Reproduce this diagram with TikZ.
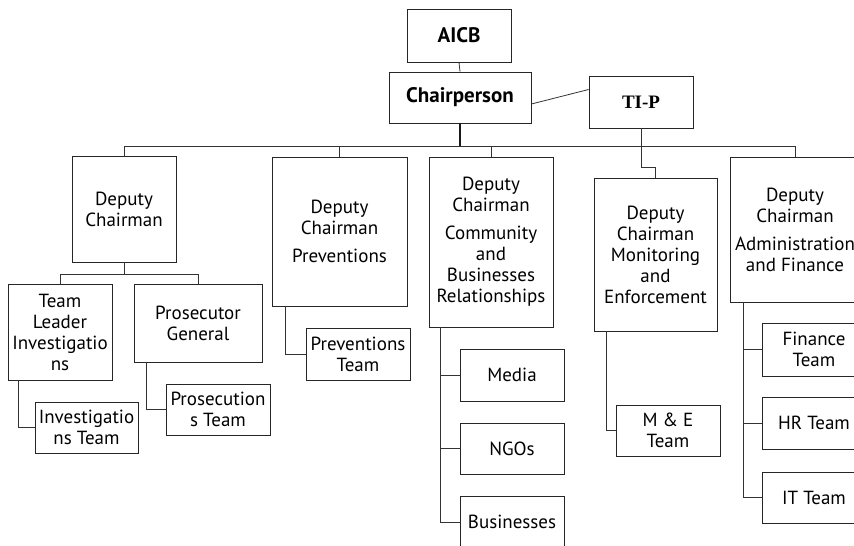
\documentclass[tikz,border=0pt]{standalone}
\usepackage{fontspec}
\setmainfont{PT Sans}
\newfontfamily\tipfont{Liberation Serif}
\usetikzlibrary{calc}
\begin{document}
\begin{tikzpicture}[x=1pt,y=-1pt,
  box/.style={draw=black!85, line width=0.8pt, align=center, inner sep=0pt,
    font=\fontsize{19}{21}\selectfont},
  tbox/.style={box, font=\bfseries\fontsize{21}{23}\selectfont},
  ln/.style={draw=black!80, line width=0.8pt},
  thick ln/.style={draw=black!90, line width=1.5pt}]
\useasboundingbox (0,0) rectangle (854,546);

% top
\node[tbox, minimum width=104pt, minimum height=53pt] (aicb) at (459,35.5) {AICB};
\node[tbox, minimum width=142pt, minimum height=51pt] (chair) at (460,97.5) {Chairperson};
\node[tbox, minimum width=104pt, minimum height=52pt, font=\tipfont\bfseries\fontsize{19}{21}\selectfont] (tip) at (641,102) {TI-P};

% deputies
\node[box, minimum width=104pt, minimum height=106pt] (dep1) at (124,209) {Deputy\\Chairman};
\node[box, minimum width=135pt, minimum height=149pt] (dep2) at (339.5,231.5) {Deputy\\Chairman\\[7pt]Preventions};
\node[box, minimum width=124pt, minimum height=170pt] (dep3) at (491,242) {Deputy\\Chairman\\[7pt]Community\\and\\Businesses\\Relationships};
\node[box, minimum width=123pt, minimum height=153pt] (dep4) at (655.5,254.5) {Deputy\\Chairman\\Monitoring\\and\\Enforcement};
\node[box, minimum width=130pt, minimum height=145pt] (dep5) at (795,229.5) {Deputy\\Chairman\\[7pt]Administration\\and Finance};

% second level
\node[box, minimum width=104pt, minimum height=96pt] (tl) at (60,332) {Team\\Leader\\Investigatio\\ns};
\node[box, minimum width=128pt, minimum height=78pt] (pg) at (198,323) {Prosecutor\\General};
\node[box, minimum width=103pt, minimum height=51pt] (inv) at (86.5,427.5) {Investigatio\\ns Team};
\node[box, minimum width=104pt, minimum height=51pt] (pros) at (218,409.5) {Prosecution\\s Team};
\node[box, minimum width=104pt, minimum height=52pt] (prevt) at (358,354) {Preventions\\Team};
\node[box, minimum width=104pt, minimum height=52pt] (media) at (512,375) {Media};
\node[box, minimum width=104pt, minimum height=51pt] (ngos) at (512,448.5) {NGOs};
\node[box, minimum width=104pt, minimum height=52pt] (bus) at (512,522) {Businesses};
\node[box, minimum width=104pt, minimum height=51pt] (met) at (668,430.5) {M \& E\\Team};
\node[box, minimum width=104pt, minimum height=53pt] (fin) at (814,349.5) {Finance\\Team};
\node[box, minimum width=104pt, minimum height=52pt] (hr) at (814,423) {HR Team};
\node[box, minimum width=104pt, minimum height=51pt] (it) at (814,497.5) {IT Team};

% coordinates
\coordinate (bar) at (0,146);
\coordinate (tipjog) at (0,167);
\coordinate (d1bar) at (0,274);

% top connectors
\draw[ln] (aicb.south) -- (chair.north);
\draw[ln] ($(chair.east)+(0,6.5)$) -- ($(tip.west)+(0,-12.5)$);
\draw[thick ln] (chair.south) -- (chair.south |- bar);
\draw[ln] (dep1.north |- bar) -- (dep5.north |- bar);
\draw[ln] (dep1.north) -- (dep1.north |- bar);
\draw[ln] (dep2.north) -- (dep2.north |- bar);
\draw[ln] (dep3.north) -- (dep3.north |- bar);
\draw[ln] (dep5.north) -- (dep5.north |- bar);
\draw[ln] (tip.south) -- (tip.south |- tipjog) -- (dep4.north |- tipjog) -- (dep4.north);

% deputy 1 subtree
\draw[ln] (dep1.south) -- (dep1.south |- d1bar);
\draw[ln] (tl.north |- d1bar) -- (pg.north |- d1bar);
\draw[ln] (tl.north |- d1bar) -- (tl.north);
\draw[ln] (pg.north |- d1bar) -- (pg.north);
\draw[ln] ($(tl.south west)+(11,0)$) |- (inv.west);
\draw[ln] ($(pg.south west)+(12.7,0)$) |- (pros.west);

% deputy 2
\draw[ln] ($(dep2.south west)+(13.7,0)$) |- (prevt.west);

% deputy 3
\draw[ln] ($(dep3.south west)+(12,0)$) |- (bus.west);
\draw[ln] ($(dep3.south west)+(12,0)$) |- (media.west);
\draw[ln] ($(dep3.south west)+(12,0)$) |- (ngos.west);

% deputy 4
\draw[ln] ($(dep4.south west)+(12.7,0)$) |- (met.west);

% deputy 5
\draw[ln] ($(dep5.south west)+(13.3,0)$) |- (it.west);
\draw[ln] ($(dep5.south west)+(13.3,0)$) |- (fin.west);
\draw[ln] ($(dep5.south west)+(13.3,0)$) |- (hr.west);
\end{tikzpicture}
\end{document}
